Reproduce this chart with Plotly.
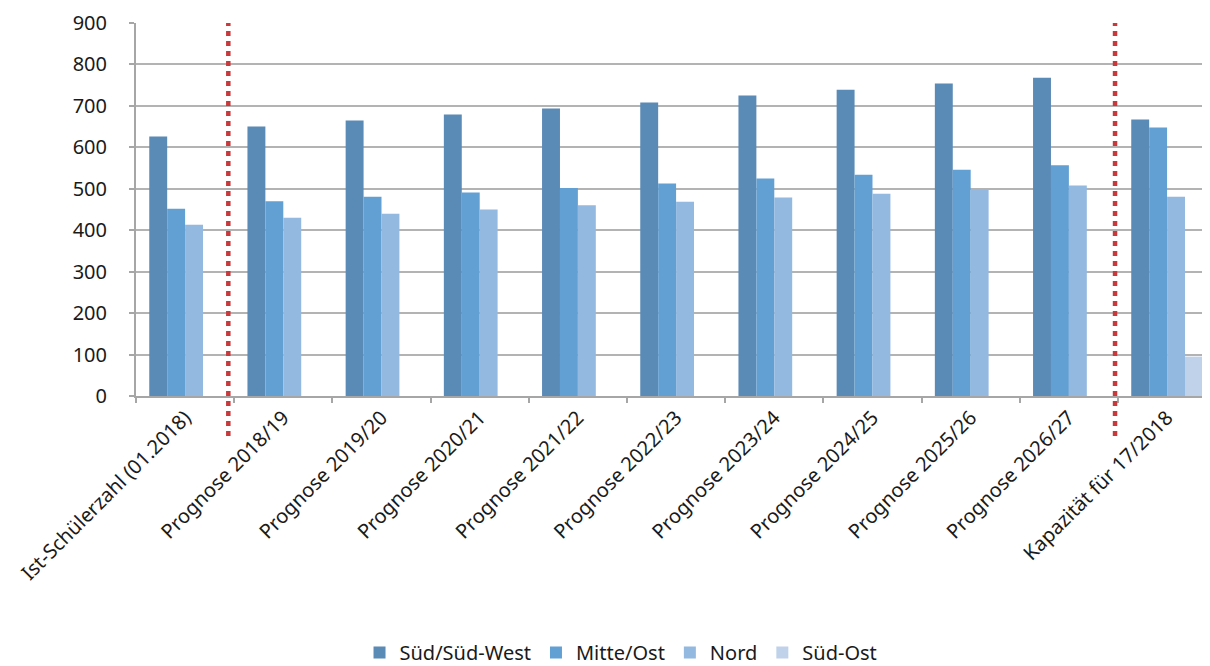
import plotly.graph_objects as go

categories = ["Ist-Schülerzahl (01.2018)", "Prognose 2018/19", "Prognose 2019/20",
              "Prognose 2020/21", "Prognose 2021/22", "Prognose 2022/23",
              "Prognose 2023/24", "Prognose 2024/25", "Prognose 2025/26",
              "Prognose 2026/27", "Kapazität für 17/2018"]
sued_suedwest = [626, 650, 665, 679, 694, 708, 725, 739, 754, 768, 667]
mitte_ost = [452, 470, 481, 491, 502, 513, 525, 534, 546, 557, 648]
nord = [413, 430, 440, 450, 460, 469, 479, 488, 498, 508, 481]
sued_ost = [None, None, None, None, None, None, None, None, None, None, 95]

series = [
    ("Süd/Süd-West", sued_suedwest, "#5a8ab6"),
    ("Mitte/Ost", mitte_ost, "#62a0d4"),
    ("Nord", nord, "#93b9e0"),
    ("Süd-Ost", sued_ost, "#bfd2ea"),
]
divider_positions = [0.44, 9.47]

font = "Noto Sans, Open Sans, sans-serif"
fig = go.Figure()
for name, vals, col in series:
    fig.add_trace(go.Bar(x=categories, y=vals, name=name, marker_color=col,
                         marker_line_width=0))

for xp in divider_positions:
    fig.add_shape(type="line", xref="x", yref="paper", x0=xp, x1=xp,
                  y0=-0.107, y1=1.0,
                  line=dict(color="#c9393b", width=4.5, dash="5px,5px"),
                  layer="above")

fig.update_layout(
    width=1202, height=664,
    margin=dict(l=128, r=0, t=15, b=276, autoexpand=False),
    plot_bgcolor="white", paper_bgcolor="white",
    barmode="group", bargap=0.27, bargroupgap=0,
    font=dict(family=font, size=20, color="#1a1a1a"),
    legend=dict(orientation="h", x=0.51, xanchor="center", xref="container",
                y=0.0, yanchor="bottom", yref="container",
                font=dict(size=20), itemwidth=30, traceorder="normal"),
    xaxis=dict(type="category", range=[-0.5, 10.437], tickangle=-45,
               showline=True, linecolor="#a6a6a6", linewidth=2,
               ticks="outside", tickson="boundaries", ticklen=5, tickcolor="#a6a6a6",
               tickwidth=2, showgrid=False, tickfont=dict(size=20)),
    yaxis=dict(range=[0, 900], dtick=100, showline=True, linecolor="#a6a6a6",
               linewidth=2, ticks="outside", ticklen=5, tickcolor="#a6a6a6", tickwidth=2,
               showgrid=True, gridcolor="#b3b3b3", gridwidth=1.5, zeroline=False,
               tickfont=dict(size=20), ticklabelstandoff=18),
)

fig.write_html("out.html")
